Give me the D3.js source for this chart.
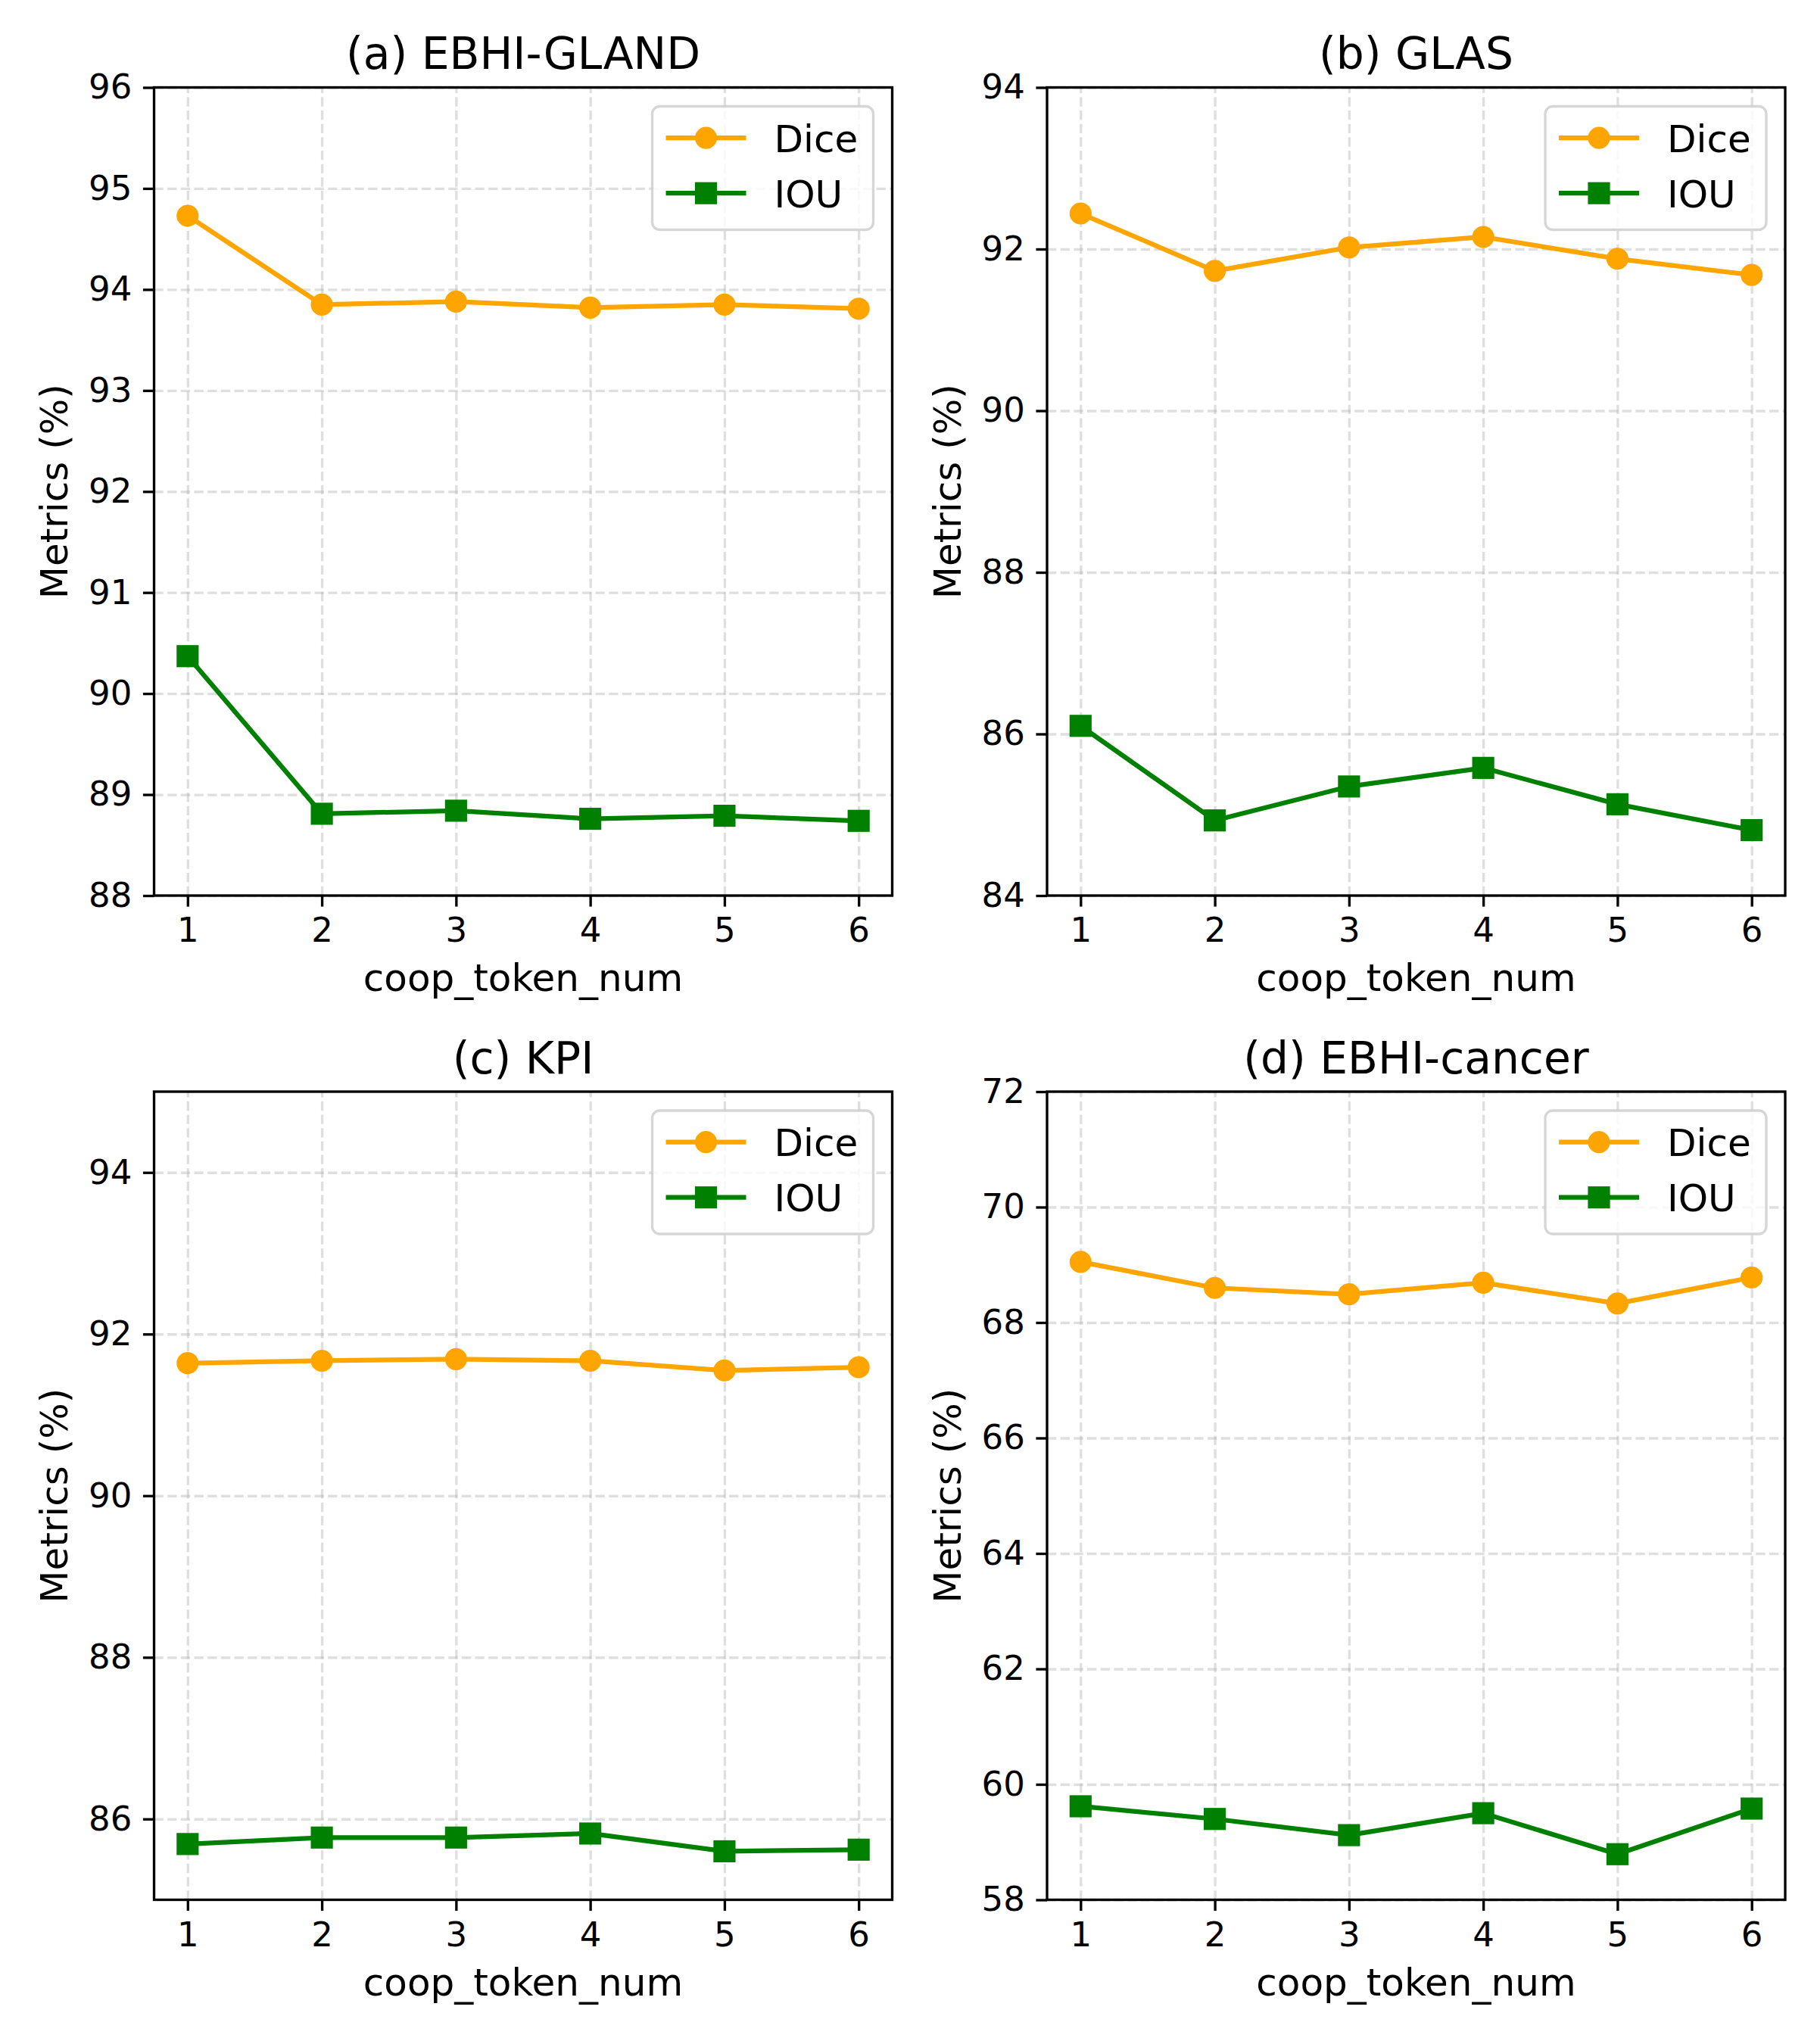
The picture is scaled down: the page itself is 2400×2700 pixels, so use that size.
<!DOCTYPE html>
<html>
<head>
<meta charset="utf-8">
<script src="https://cdn.jsdelivr.net/npm/d3@7"></script>
<style>
  body { margin: 0; background: #fff; }
  svg text { font-family: "DejaVu Sans", sans-serif; fill: #000; }
</style>
</head>
<body>
<div id="chart"></div>
<script>
// ---- data ----
const tokenNums = [1, 2, 3, 4, 5, 6];
const seriesNames = ['Dice', 'IOU'];
const panelTitles = ['(a) EBHI-GLAND', '(b) GLAS', '(c) KPI', '(d) EBHI-cancer'];

const diceGland = [94.73, 93.85, 93.88, 93.82, 93.85, 93.81];
const iouGland = [90.37, 88.81, 88.84, 88.76, 88.79, 88.74];
const diceGlas = [92.44, 91.73, 92.02, 92.15, 91.88, 91.68];
const iouGlas = [86.10, 84.93, 85.35, 85.58, 85.13, 84.81];
const diceKpi = [91.64, 91.67, 91.69, 91.67, 91.55, 91.59];
const iouKpi = [85.69, 85.77, 85.77, 85.82, 85.60, 85.62];
const diceCancer = [69.05, 68.60, 68.49, 68.69, 68.33, 68.78];
const iouCancer = [59.62, 59.40, 59.12, 59.50, 58.79, 59.58];

const yDomainGland = [88, 96];
const yDomainGlas = [84, 94];
const yDomainKpi = [85, 95];
const yDomainCancer = [58, 72];
const yTicksGland = [88, 89, 90, 91, 92, 93, 94, 95, 96];
const yTicksGlas = [84, 86, 88, 90, 92, 94];
const yTicksKpi = [86, 88, 90, 92, 94];
const yTicksCancer = [58, 60, 62, 64, 66, 68, 70, 72];

// ---- layout ----
const W = 2400, H = 2700;
const PT = 300 / 72;  // px per point
const colors = { Dice: '#FFA500', IOU: '#008000' };
const axW = 975, axH = 1067.5;
const cols = [203.5, 1383];
const rows = [115.5, 1442];

const panels = [
    { title: panelTitles[0], dice: diceGland, iou: iouGland, domain: yDomainGland, ticks: yTicksGland },
    { title: panelTitles[1], dice: diceGlas, iou: iouGlas, domain: yDomainGlas, ticks: yTicksGlas },
    { title: panelTitles[2], dice: diceKpi, iou: iouKpi, domain: yDomainKpi, ticks: yTicksKpi },
    { title: panelTitles[3], dice: diceCancer, iou: iouCancer, domain: yDomainCancer, ticks: yTicksCancer }
];

const svg = d3.select('#chart').append('svg')
    .attr('width', W)
    .attr('height', H);
svg.append('rect').attr('width', W).attr('height', H).attr('fill', '#fff');

panels.forEach((p, i) => {
    const left = cols[i % 2];
    const top = rows[Math.floor(i / 2)];

    const g = svg.append('g').attr('transform', `translate(${left},${top})`);

    const x = d3.scaleLinear().domain([0.75, 6.25]).range([0, axW]);
    const y = d3.scaleLinear().domain(p.domain).range([axH, 0]);

    // grid
    const gridX = g.append('g')
        .attr('transform', `translate(0,${axH})`)
        .call(d3.axisBottom(x).tickValues(tokenNums).tickSize(-axH).tickFormat(''));
    const gridY = g.append('g')
        .call(d3.axisLeft(y).tickValues(p.ticks).tickSize(-axW).tickFormat(''));
    [gridX, gridY].forEach(gg => {
        gg.select('.domain').remove();
        gg.selectAll('line')
            .attr('stroke', '#b0b0b0')
            .attr('stroke-opacity', 0.4)
            .attr('stroke-width', 0.8 * PT)
            .attr('stroke-dasharray', `${2.96 * PT},${1.28 * PT}`);
    });

    // series
    const seriesData = [
        { name: 'Dice', values: p.dice },
        { name: 'IOU', values: p.iou }
    ];
    const line = d3.line()
        .x((d, j) => x(tokenNums[j]))
        .y(d => y(d));

    seriesData.forEach(s => {
        const c = colors[s.name];
        g.append('path')
            .attr('d', line(s.values))
            .attr('fill', 'none')
            .attr('stroke', c)
            .attr('stroke-width', 1.5 * PT)
            .attr('stroke-linejoin', 'round');
        if (s.name === 'Dice') {
            g.selectAll(null).data(s.values).enter().append('circle')
                .attr('cx', (d, j) => x(tokenNums[j]))
                .attr('cy', d => y(d))
                .attr('r', 3 * PT)
                .attr('fill', c)
                .attr('stroke', c)
                .attr('stroke-width', PT);
        } else {
            const side = 6 * PT;
            g.selectAll(null).data(s.values).enter().append('rect')
                .attr('x', (d, j) => x(tokenNums[j]) - side / 2)
                .attr('y', d => y(d) - side / 2)
                .attr('width', side)
                .attr('height', side)
                .attr('fill', c)
                .attr('stroke', c)
                .attr('stroke-width', PT);
        }
    });

    // spines
    g.append('rect')
        .attr('width', axW)
        .attr('height', axH)
        .attr('fill', 'none')
        .attr('stroke', '#000')
        .attr('stroke-width', 0.8 * PT);

    // axes
    const tickLen = 3.5 * PT;
    const xAxisG = g.append('g')
        .attr('transform', `translate(0,${axH})`)
        .call(d3.axisBottom(x).tickValues(tokenNums).tickSize(tickLen).tickPadding(tickLen).tickFormat(d3.format('d')));
    const yAxisG = g.append('g')
        .call(d3.axisLeft(y).tickValues(p.ticks).tickSize(tickLen).tickPadding(tickLen).tickFormat(d3.format('d')));
    [xAxisG, yAxisG].forEach(ag => {
        ag.select('.domain').remove();
        ag.selectAll('line').attr('stroke', '#000').attr('stroke-width', 0.8 * PT);
        ag.selectAll('text')
            .attr('font-family', '"DejaVu Sans", sans-serif')
            .attr('font-size', 45)
            .attr('fill', '#000');
    });

    // title and labels
    g.append('text')
        .attr('x', axW / 2)
        .attr('y', -24.5)
        .attr('text-anchor', 'middle')
        .attr('font-size', 58.3)
        .text(p.title);
    g.append('text')
        .attr('x', axW / 2)
        .attr('y', axH + 126)
        .attr('text-anchor', 'middle')
        .attr('font-size', 50)
        .text('coop_token_num');
    g.append('text')
        .attr('transform', `translate(${-114.5},${axH / 2}) rotate(-90)`)
        .attr('text-anchor', 'middle')
        .attr('font-size', 50)
        .text('Metrics (%)');

    // legend
    const lw = 292, lh = 163;
    const lg = g.append('g').attr('transform', `translate(${axW - 25 - lw},${25})`);
    lg.append('rect')
        .attr('width', lw)
        .attr('height', lh)
        .attr('rx', 10)
        .attr('fill', '#fff')
        .attr('fill-opacity', 0.8)
        .attr('stroke', '#cccccc')
        .attr('stroke-opacity', 0.8)
        .attr('stroke-width', 3.3);
    seriesNames.forEach((name, k) => {
        const cy = 41.7 + k * 73;
        const c = colors[name];
        lg.append('line')
            .attr('x1', 18).attr('x2', 124)
            .attr('y1', cy).attr('y2', cy)
            .attr('stroke', c)
            .attr('stroke-width', 1.5 * PT);
        if (name === 'Dice') {
            lg.append('circle')
                .attr('cx', 71).attr('cy', cy).attr('r', 3 * PT)
                .attr('fill', c).attr('stroke', c).attr('stroke-width', PT);
        } else {
            const side = 6 * PT;
            lg.append('rect')
                .attr('x', 71 - side / 2).attr('y', cy - side / 2)
                .attr('width', side).attr('height', side)
                .attr('fill', c).attr('stroke', c).attr('stroke-width', PT);
        }
        lg.append('text')
            .attr('x', 161)
            .attr('y', cy + 18.3)
            .attr('font-size', 50)
            .text(name);
    });
});
</script>
</body>
</html>
